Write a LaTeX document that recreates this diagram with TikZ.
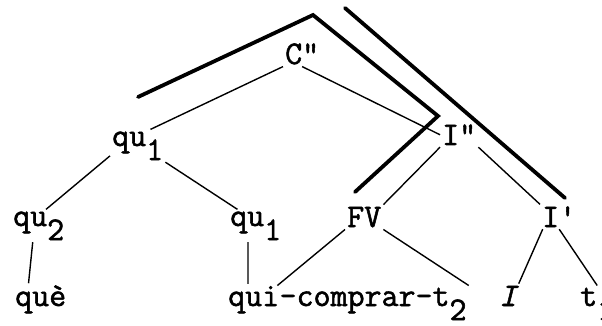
\documentclass[tikz,border=0pt]{standalone}
\usepackage{fontspec}
\newfontfamily\tw{Latin Modern Mono}[FakeBold=1.6]
\usetikzlibrary{positioning}
\newcommand\lo[1]{\raisebox{-14pt}{#1}}

\begin{document}
\begin{tikzpicture}[x=1pt, y=-1pt,
  every node/.style={font=\tw\fontsize{33}{36}\selectfont,
                     inner sep=2pt, anchor=base west},
  br/.style={line width=1.4pt},
  fat/.style={line width=3.8pt, line cap=round}
]
\useasboundingbox (0,0) rectangle (602,326);

\node (cb)  at (283,64)  {C"};
\node (qa)  at (110,146) {qu\lo{1}};
\node (ip)  at (440,145) {I"};
\node (qb)  at (11,226)  {qu\lo{2}};
\node (qc)  at (228,226) {qu\lo{1}};
\node (fv)  at (345,227) {FV};
\node (ib)  at (540,227) {I'};
\node (que) at (13,306)  {què};
\node (qui) at (226,306) {qui};
\node[base right=-4pt of qui] (vb) {-comprar—t\lo{2}};
\node (ii)  at (497,306) {\itshape I};
\node (tt)  at (578,306) {t\lo{1}};

\draw[br] (cb.south west) -- (qa.52);
\draw[br] (cb.south)      -- (ip.west);
\draw[br] (qa.200)        -- (qb.66);
\draw[br] (qa.south east) -- (qc.138);
\draw[br] (qb.250)        -- (que.127);
\draw[br] (qc.245)        -- (qui.110);
\draw[br] (ip.south west) -- (fv.north east);
\draw[br] (ip.south east) -- (ib.north west);
\draw[br] (fv.south west) -- (vb.north west);
\draw[br] (fv.south east) -- (vb.north east);
\draw[br] (ib.217)        -- (ii.north east);
\draw[br] (ib.south)      -- (tt.north);

% the two heavy strokes over the tree
\coordinate (ka) at (138,97);
\coordinate (kb) at (313,15);
\coordinate (kc) at (438,116);
\coordinate (kd) at (355,192);
\coordinate (ke) at (345,8);
\coordinate (kf) at (565,198);
\draw[fat] (ka) -- (kb) -- (kc) -- (kd);
\draw[fat] (ke) -- (kf);

\end{tikzpicture}
\end{document}
